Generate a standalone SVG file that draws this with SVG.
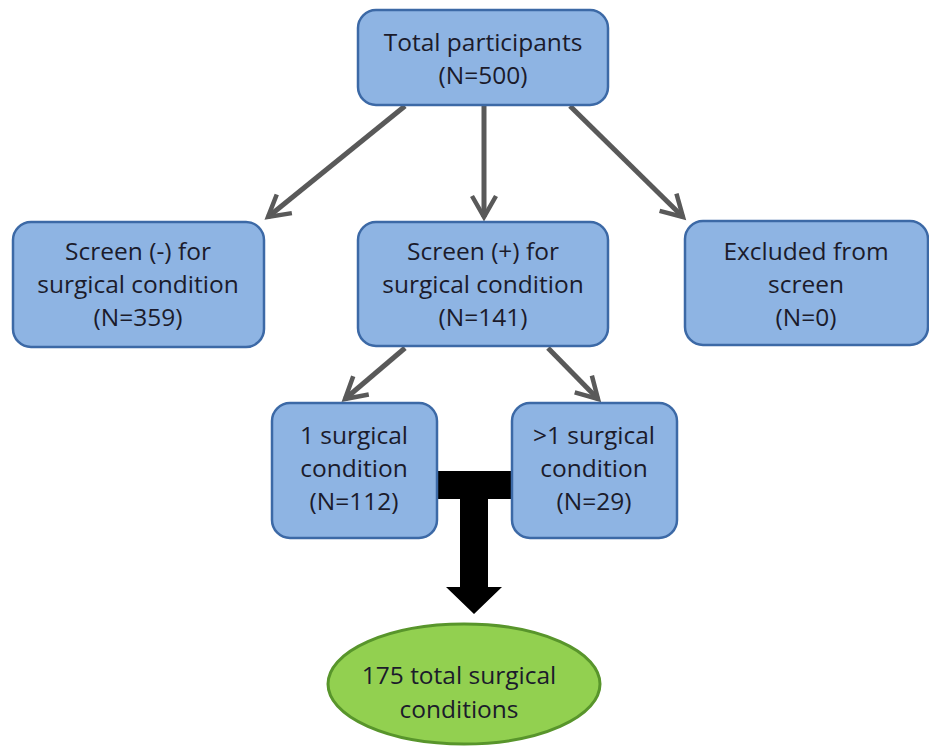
<svg xmlns="http://www.w3.org/2000/svg" width="929" height="746" viewBox="0 0 929 746">
<defs>
<style>
.box{fill:#8eb4e3;stroke:#3c69a6;stroke-width:2.5}
.t{font-family:"Open Sans","Liberation Sans",sans-serif;font-size:24.5px;fill:#1b1b2b;text-anchor:middle}
.c{stroke:#595959;stroke-width:5;fill:none;stroke-linecap:butt}
</style>
<marker id="ah" viewBox="0 0 10 10" refX="8" refY="5" markerWidth="6" markerHeight="6" orient="auto" markerUnits="strokeWidth">
<path d="M1,1 L8,5 L1,9" fill="none" stroke="#595959" stroke-width="1.5" stroke-linejoin="miter"/>
</marker>
</defs>
<rect width="929" height="746" fill="#ffffff"/>
<g id="connectors">
<line class="c" x1="405" y1="106" x2="268" y2="217" marker-end="url(#ah)"/>
<line class="c" x1="484" y1="106" x2="484" y2="217" marker-end="url(#ah)"/>
<line class="c" x1="570" y1="106" x2="683" y2="217" marker-end="url(#ah)"/>
<line class="c" x1="405" y1="348" x2="345" y2="399" marker-end="url(#ah)"/>
<line class="c" x1="548" y1="348" x2="598" y2="399" marker-end="url(#ah)"/>
<path id="merge" d="M437,471 H512 V499 H488 V587 H502 L474,614 L446,587 H460 V499 H437 Z" fill="#000000"/>
</g>
<g id="total">
<rect class="box" x="358" y="10" width="250" height="95" rx="18"/>
<text class="t" x="483" y="51">Total participants</text>
<text class="t" x="483" y="84">(N=500)</text>
</g>
<g id="screen-neg">
<rect class="box" x="13" y="222" width="251" height="125" rx="18"/>
<text class="t" x="138" y="260">Screen (-) for</text>
<text class="t" x="138" y="293">surgical condition</text>
<text class="t" x="138" y="326">(N=359)</text>
</g>
<g id="screen-pos">
<rect class="box" x="358" y="222" width="250" height="124" rx="18"/>
<text class="t" x="483" y="260">Screen (+) for</text>
<text class="t" x="483" y="293">surgical condition</text>
<text class="t" x="483" y="326">(N=141)</text>
</g>
<g id="excluded">
<rect class="box" x="685" y="221" width="243" height="124" rx="18"/>
<text class="t" x="806" y="260">Excluded from</text>
<text class="t" x="806" y="293">screen</text>
<text class="t" x="806" y="326">(N=0)</text>
</g>
<g id="one-cond">
<rect class="box" x="272" y="403" width="165" height="135" rx="18"/>
<text class="t" x="354" y="444">1 surgical</text>
<text class="t" x="354" y="477">condition</text>
<text class="t" x="354" y="510">(N=112)</text>
</g>
<g id="multi-cond">
<rect class="box" x="512" y="403" width="165" height="135" rx="18"/>
<text class="t" x="594" y="444">&gt;1 surgical</text>
<text class="t" x="594" y="477">condition</text>
<text class="t" x="594" y="510">(N=29)</text>
</g>
<g id="total-cond">
<ellipse cx="464" cy="684" rx="136" ry="60" fill="#92d050" stroke="#58952b" stroke-width="3"/>
<text class="t" x="459" y="684">175 total surgical</text>
<text class="t" x="459" y="718">conditions</text>
</g>
</svg>
